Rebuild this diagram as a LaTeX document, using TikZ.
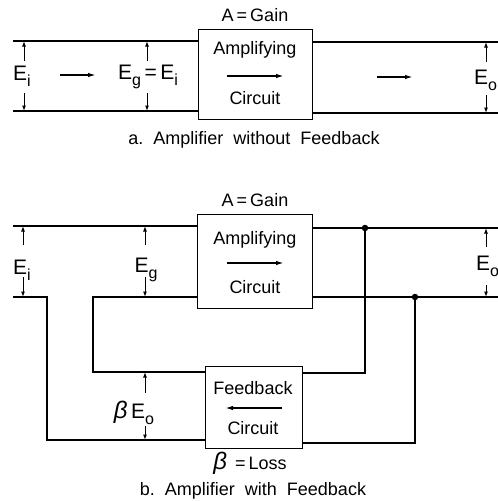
\documentclass[tikz,border=0pt]{standalone}
\usepackage{fontspec}
\setmainfont{Liberation Sans}
\usetikzlibrary{arrows.meta}
\newcommand\subs[1]{\raisebox{-0.55ex}{\fontsize{16}{16}\selectfont #1}}
\newcommand\bet{{\itshape\fontsize{24}{24}\selectfont β}}
\begin{document}
\begin{tikzpicture}[x=1pt,y=-1pt,
 wire/.style={line width=1.5pt},
 box/.style={draw,line width=1.4pt,inner sep=0pt,anchor=north west},
 lbl/.style={font=\fontsize{18}{20}\selectfont,inner sep=0pt},
 vlbl/.style={font=\fontsize{21}{22}\selectfont,inner sep=0pt},
 varrow/.style={line width=1pt,-{Latex[length=5.5pt,width=4pt]}},
 flow/.style={line width=1.5pt,-{Latex[length=8pt,width=4.5pt]}},
 dot/.style={circle,fill,inner sep=0pt,minimum size=6.5pt}]
\useasboundingbox (0,0) rectangle (498,501);

% ---------------- part a ----------------
\node[box,minimum width=114pt,minimum height=90pt] (ampA) at (198,29) {};
\coordinate (aTL) at (13,41);
\coordinate (aBL) at (13,111);
\coordinate (aTR) at (498,42);
\coordinate (aBR) at (498,113);
\draw[wire] (aTL) -- (aTL -| ampA.west);
\draw[wire] (aBL) -- (aBL -| ampA.west);
\draw[wire] (aTR -| ampA.east) -- (aTR);
\draw[wire] (aBR -| ampA.east) -- (aBR);

\node[lbl] (gainA) at (255,15) {A\,=\,Gain};
\node[lbl] (ampAt) at (255,50) {Amplifying};
\node[lbl] (cirAt) at (255,98) {Circuit};
\coordinate (afa1) at (227,76); \coordinate (afa2) at (284,76);
\draw[flow] (afa1) -- (afa2);

% Ei
\node[vlbl,anchor=west] (eiA) at (13,76) {E\subs{i}};
\coordinate (eiAt) at (24,61); \coordinate (eiAb) at (24,93);
\draw[varrow] (eiAt) -- (eiAt |- aTL);
\draw[varrow] (eiAb) -- (eiAb |- aBL);
% flow arrows
\coordinate (fl1) at (60,75); \coordinate (fl2) at (96,75);
\draw[flow] (fl1) -- (fl2);
\coordinate (fr1) at (377,77); \coordinate (fr2) at (413,77);
\draw[flow] (fr1) -- (fr2);
% Eg = Ei
\node[vlbl] (egA) at (148,77) {E\subs{g}\,=\,E\subs{i}};
\coordinate (egAt) at (147,61); \coordinate (egAb) at (147,93);
\draw[varrow] (egAt) -- (egAt |- aTL);
\draw[varrow] (egAb) -- (egAb |- aBL);
% Eo
\node[vlbl,anchor=west] (eoA) at (474,80) {E\subs{o}};
\coordinate (eoAt) at (486,62); \coordinate (eoAb) at (486,95);
\draw[varrow] (eoAt) -- (eoAt |- aTR);
\draw[varrow] (eoAb) -- (eoAb |- aBR);

\node[lbl] (capA) at (254,140) {a.\ \ Amplifier\ \ without\ \ Feedback};

% ---------------- part b ----------------
\node[box,minimum width=115pt,minimum height=94pt] (ampB) at (197,214) {};
\node[box,minimum width=97pt,minimum height=82pt] (fbB) at (205,366) {};
\coordinate (bTL) at (13,226);
\coordinate (bBL) at (13,297);
\coordinate (bTR) at (498,228);
\coordinate (bBR) at (498,297);
\coordinate (bj1) at (47,297);
\coordinate (bj2) at (47,440);
\coordinate (bi1) at (93,297);
\coordinate (bi2) at (93,372);
\coordinate (dA) at (365,228);
\coordinate (dA2) at (365,373);
\coordinate (dB) at (415,297);
\coordinate (dB2) at (415,443);

\draw[wire] (bTL) -- (bTL -| ampB.west);
\draw[wire] (bTR -| ampB.east) -- (bTR);
\draw[wire] (bBR -| ampB.east) -- (bBR);
\draw[wire] (bBL) -- (bj1) -- (bj2) -- (bj2 -| fbB.west);
\draw[wire] (bi1 -| ampB.west) -- (bi1) -- (bi2) -- (bi2 -| fbB.west);
\draw[wire] (dA) -- (dA2) -- (dA2 -| fbB.east);
\draw[wire] (dB) -- (dB2) -- (dB2 -| fbB.east);
\node[dot] (dotA) at (dA) {};
\node[dot] (dotB) at (dB) {};

\node[lbl] (gainB) at (255,200) {A\,=\,Gain};
\node[lbl] (ampBt) at (255,240) {Amplifying};
\node[lbl] (cirBt) at (255,287) {Circuit};
\coordinate (bfa1) at (227,263); \coordinate (bfa2) at (284,263);
\draw[flow] (bfa1) -- (bfa2);

\node[lbl] (fbBt) at (253,388) {Feedback};
\node[lbl] (cirFt) at (253,428) {Circuit};
\coordinate (ffa1) at (282,408); \coordinate (ffa2) at (225,408);
\draw[flow] (ffa1) -- (ffa2);

% Ei
\node[vlbl,anchor=west] (eiB) at (13,270) {E\subs{i}};
\coordinate (eiBt) at (23,245); \coordinate (eiBb) at (23,277);
\draw[varrow] (eiBt) -- (eiBt |- bTL);
\draw[varrow] (eiBb) -- (eiBb |- bBL);
% Eg
\node[vlbl] (egB) at (146,270) {E\subs{g}};
\coordinate (egBt) at (145,245); \coordinate (egBb) at (145,277);
\draw[varrow] (egBt) -- (egBt |- bTL);
\draw[varrow] (egBb) -- (egBb |- bBL);
% Eo
\node[vlbl,anchor=west] (eoB) at (476,266) {E\subs{o}};
\coordinate (eoBt) at (486,247); \coordinate (eoBb) at (486,285);
\draw[varrow] (eoBt) -- (eoBt |- bTR);
\draw[varrow] (eoBb) -- (eoBb |- bBR);
% beta Eo
\node[vlbl] (beo) at (134,413) {\bet\,E\subs{o}};
\coordinate (beot) at (145,393); \coordinate (beob) at (145,426);
\draw[varrow] (beot) -- (beot |- bi2);
\draw[varrow] (beob) -- (beob |- bj2);

\node[lbl] (loss) at (250,463) {\bet\ \,=\,Loss};
\node[lbl] (capB) at (253,491) {b.\ \ Amplifier\ \ with\ \ Feedback};
\end{tikzpicture}
\end{document}
